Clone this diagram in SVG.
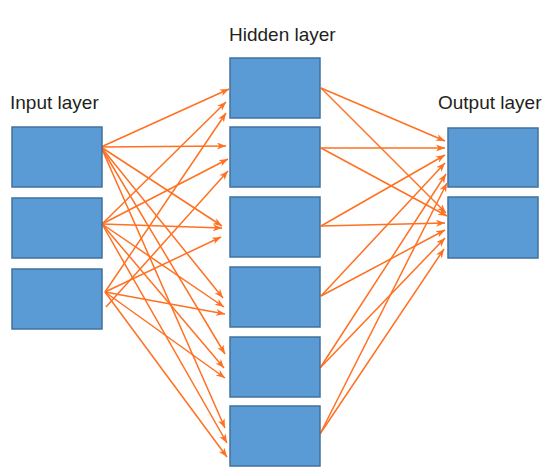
<svg xmlns="http://www.w3.org/2000/svg" width="544" height="473" viewBox="0 0 544 473">
<style>
.box{fill:#5B9BD5;stroke:#41719C;stroke-width:1.5}
.lbl{font-family:"Liberation Sans",Arial,sans-serif;font-size:19px;fill:#231F20}
.c{stroke:#FF7020;stroke-width:1.5;fill:none;marker-end:url(#ah)}
</style>
<defs>
<marker id="ah" markerUnits="userSpaceOnUse" markerWidth="10" markerHeight="8" refX="9" refY="3.5" orient="auto">
<path d="M0,0 L9,3.5 L0,7 L2.5,3.5 z" fill="#FF7020"/>
</marker>
</defs>
<rect width="544" height="473" fill="#ffffff"/>
<text class="lbl" x="10" y="109">Input layer</text>
<text class="lbl" x="229" y="41">Hidden layer</text>
<text class="lbl" x="438" y="109">Output layer</text>
<g id="connectors">
<line class="c" x1="101" y1="147" x2="229" y2="89"/>
<line class="c" x1="101" y1="147" x2="226" y2="146"/>
<line class="c" x1="101" y1="147" x2="222" y2="226"/>
<line class="c" x1="101" y1="147" x2="223" y2="298"/>
<line class="c" x1="101" y1="147" x2="225" y2="354"/>
<line class="c" x1="101" y1="147" x2="225" y2="428"/>
<line class="c" x1="102" y1="224" x2="226" y2="102"/>
<line class="c" x1="102" y1="224" x2="228" y2="159"/>
<line class="c" x1="102" y1="224" x2="222" y2="228"/>
<line class="c" x1="102" y1="224" x2="224" y2="307"/>
<line class="c" x1="102" y1="224" x2="224" y2="368"/>
<line class="c" x1="102" y1="224" x2="227" y2="443"/>
<line class="c" x1="105" y1="292" x2="226" y2="113"/>
<line class="c" x1="106" y1="307" x2="228" y2="171"/>
<line class="c" x1="105" y1="292" x2="221" y2="237"/>
<line class="c" x1="105" y1="292" x2="225" y2="314"/>
<line class="c" x1="105" y1="292" x2="225" y2="378"/>
<line class="c" x1="105" y1="292" x2="227" y2="457"/>
<line class="c" x1="321" y1="88" x2="445" y2="141"/>
<line class="c" x1="321" y1="88" x2="446" y2="213"/>
<line class="c" x1="321" y1="148" x2="445" y2="148"/>
<line class="c" x1="321" y1="148" x2="447" y2="216"/>
<line class="c" x1="321" y1="226" x2="445" y2="155"/>
<line class="c" x1="321" y1="226" x2="445" y2="223"/>
<line class="c" x1="321" y1="296" x2="445" y2="163"/>
<line class="c" x1="321" y1="296" x2="445" y2="230"/>
<line class="c" x1="320" y1="368" x2="446" y2="174"/>
<line class="c" x1="320" y1="368" x2="445" y2="238"/>
<line class="c" x1="320" y1="434" x2="447" y2="183"/>
<line class="c" x1="320" y1="434" x2="444" y2="249"/>
</g>
<g id="input1"><rect class="box" x="12" y="127" width="90" height="60"/></g>
<g id="input2"><rect class="box" x="12" y="198" width="90" height="60"/></g>
<g id="input3"><rect class="box" x="12" y="269" width="90" height="60"/></g>
<g id="hidden1"><rect class="box" x="230" y="58" width="90" height="60"/></g>
<g id="hidden2"><rect class="box" x="230" y="127" width="90" height="60"/></g>
<g id="hidden3"><rect class="box" x="230" y="197" width="90" height="60"/></g>
<g id="hidden4"><rect class="box" x="230" y="267" width="90" height="60"/></g>
<g id="hidden5"><rect class="box" x="230" y="337" width="90" height="60"/></g>
<g id="hidden6"><rect class="box" x="230" y="406" width="90" height="60"/></g>
<g id="output1"><rect class="box" x="448" y="128" width="90" height="59"/></g>
<g id="output2"><rect class="box" x="448" y="197" width="90" height="61"/></g>
</svg>
